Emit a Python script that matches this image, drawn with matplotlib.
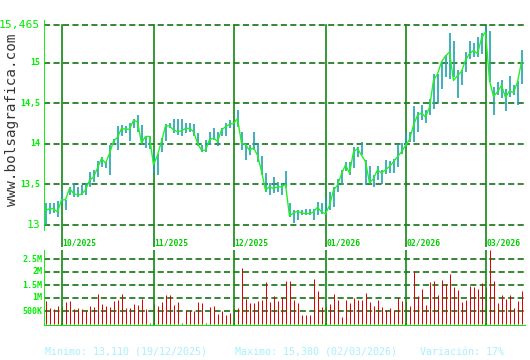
import matplotlib
matplotlib.use("Agg")
import matplotlib.pyplot as plt
import numpy as np

# daily closes / highs / lows (one per trading day, Sep 2025 - Mar 2026)
closes = [13.18, 13.20, 13.20, 13.16, 13.31, 13.31, 13.45, 13.39, 13.37, 13.38,
          13.43, 13.55, 13.59, 13.70, 13.82, 13.76, 13.88, 14.03, 14.08, 14.19,
          14.18, 14.18, 14.29, 14.27, 14.01, 14.09, 14.09, 13.74, 13.86, 14.03,
          14.22, 14.22, 14.17, 14.15, 14.16, 14.19, 14.19, 14.15, 14.01, 13.92,
          13.92, 14.05, 14.07, 14.03, 14.17, 14.21, 14.24, 14.25, 14.31, 14.01,
          13.99, 13.92, 13.95, 13.86, 13.66, 13.43, 13.47, 13.45, 13.47, 13.47,
          13.50, 13.11, 13.15, 13.17, 13.15, 13.14, 13.14, 13.16, 13.22, 13.16,
          13.14, 13.24, 13.43, 13.49, 13.63, 13.74, 13.64, 13.90, 13.94, 13.86,
          13.78, 13.52, 13.57, 13.68, 13.64, 13.68, 13.72, 13.78, 13.84, 13.90,
          13.98, 14.05, 14.23, 14.35, 14.38, 14.33, 14.45, 14.78, 14.86, 15.01,
          15.08, 15.13, 14.78, 14.84, 14.89, 15.03, 15.11, 15.15, 15.11, 15.30,
          15.38, 14.78, 14.58, 14.64, 14.72, 14.57, 14.65, 14.63, 14.76, 15.01]

highs = [13.27, 13.27, 13.27, 13.29, 13.42, 13.31, 13.47, 13.52, 13.47, 13.49,
         13.52, 13.65, 13.68, 13.79, 13.84, 13.78, 13.99, 14.06, 14.22, 14.23,
         14.22, 14.25, 14.31, 14.36, 14.23, 14.10, 14.10, 13.90, 13.88, 14.07,
         14.24, 14.26, 14.31, 14.31, 14.31, 14.25, 14.25, 14.24, 14.13, 13.99,
         14.05, 14.15, 14.19, 14.14, 14.19, 14.25, 14.29, 14.27, 14.42, 14.15,
         14.01, 13.99, 14.15, 14.01, 13.85, 13.64, 13.52, 13.59, 13.53, 13.52,
         13.66, 13.27, 13.18, 13.18, 13.18, 13.20, 13.20, 13.20, 13.28, 13.27,
         13.33, 13.41, 13.47, 13.57, 13.68, 13.78, 13.77, 13.96, 13.96, 14.02,
         13.80, 13.73, 13.61, 13.73, 13.68, 13.80, 13.79, 13.81, 14.00, 14.01,
         14.13, 14.15, 14.46, 14.39, 14.48, 14.42, 14.55, 14.86, 14.86, 15.01,
         15.09, 15.36, 15.27, 14.91, 14.91, 15.13, 15.27, 15.24, 15.32, 15.36,
         15.45, 15.39, 14.70, 14.76, 14.78, 14.68, 14.83, 14.72, 14.77, 15.16]

lows = [13.00, 13.14, 13.15, 13.10, 13.27, 13.18, 13.37, 13.35, 13.35, 13.37,
        13.37, 13.47, 13.53, 13.59, 13.72, 13.70, 13.62, 13.99, 13.92, 14.09,
        14.13, 14.03, 14.19, 14.15, 13.99, 13.95, 13.94, 13.64, 13.62, 13.90,
        14.03, 14.19, 14.13, 14.11, 14.10, 14.13, 14.14, 14.09, 13.97, 13.90,
        13.90, 13.99, 14.05, 13.97, 14.09, 14.09, 14.19, 14.21, 14.21, 13.92,
        13.80, 13.86, 13.92, 13.78, 13.62, 13.41, 13.37, 13.39, 13.41, 13.37,
        13.45, 13.10, 13.02, 13.06, 13.12, 13.12, 13.12, 13.06, 13.12, 13.14,
        13.12, 13.18, 13.22, 13.41, 13.49, 13.66, 13.61, 13.70, 13.84, 13.86,
        13.49, 13.51, 13.47, 13.55, 13.51, 13.63, 13.64, 13.64, 13.72, 13.88,
        13.96, 14.02, 14.02, 14.15, 14.29, 14.25, 14.36, 14.43, 14.50, 14.67,
        14.82, 14.80, 14.82, 14.57, 14.72, 14.89, 15.05, 15.07, 15.07, 15.11,
        15.27, 14.76, 14.35, 14.60, 14.56, 14.41, 14.58, 14.60, 14.48, 14.74]

# volume in millions of shares
volumes = [0.88, 0.62, 0.58, 0.69, 0.64, 0.85, 0.88, 0.58, 0.62, 0.58,
           0.49, 0.69, 0.65, 1.15, 0.77, 0.69, 0.65, 0.88, 0.92, 1.15,
           0.62, 0.62, 0.77, 0.73, 0.96, 0.58, 0.03, 0.77, 0.69, 0.85,
           1.12, 1.12, 0.73, 0.85, 0.03, 0.54, 0.54, 0.51, 0.85, 0.81,
           0.03, 0.65, 0.69, 0.38, 0.50, 0.35, 0.42, 0.58, 0.62, 2.15,
           0.96, 0.81, 0.81, 0.88, 0.92, 1.62, 0.85, 1.08, 0.88, 1.04,
           1.65, 1.65, 0.92, 0.81, 0.35, 0.35, 0.35, 1.73, 1.27, 0.65,
           0.65, 0.77, 1.15, 0.92, 0.27, 0.92, 0.81, 1.00, 0.92, 0.92,
           1.19, 0.85, 0.69, 0.92, 0.65, 0.54, 0.62, 0.54, 1.00, 0.88,
           0.90, 0.69, 2.04, 1.08, 1.35, 0.73, 1.62, 1.65, 1.12, 1.69,
           1.54, 1.92, 1.42, 1.31, 0.85, 0.92, 1.46, 1.42, 1.35, 1.58,
           1.40, 2.85, 1.65, 0.81, 1.12, 0.96, 1.12, 0.62, 0.88, 1.27]

month_idx = [4, 27, 47, 70, 90, 110]
month_labels = ["10/2025", "11/2025", "12/2025", "01/2026", "02/2026", "03/2026"]

price_ticks = [13, 13.5, 14, 14.5, 15, 15.465]
price_tick_labels = ["13", "13,5", "14", "14,5", "15", "15,465"]
vol_ticks = [0.5, 1, 1.5, 2, 2.5]
vol_tick_labels = ["500K", "1M", "1.5M", "2M", "2.5M"]

minimo = "Minimo: 13,110 (19/12/2025)"
maximo = "Maximo: 15,380 (02/03/2026)"
variacion = "Variación: 17%"

MONO = "DejaVu Sans Mono"
W, H = 530, 360
x = np.arange(len(closes))

fig = plt.figure(figsize=(W / 100, H / 100), dpi=100)
fig.patch.set_facecolor("white")


def px_axes(x0, y0, x1, y1):
    # pixel box (top-left origin) -> axes
    return fig.add_axes([x0 / W, (H - y1) / H, (x1 - x0) / W, (y1 - y0) / H])


# 4 px per trading day, bar centres on pixel centres
XL = (-0.375, 120.125)

# ---- price panel
ax = px_axes(44, 20, 526, 247)
ax.set_xlim(*XL)
ax.set_ylim(13 - 22 / 81.2, 13 + 205 / 81.2)
for s in ax.spines.values():
    s.set_visible(False)
ax.set_xticks([])
ax.set_yticks([])
ax.patch.set_alpha(0)

for v in price_ticks:
    ax.axhline(v, color="#006600", lw=1.1, ls=(0, (4, 2.2)), zorder=1)
for i in month_idx:
    ax.axvline(i, ymin=0, ymax=0.978, color="#108a10", lw=1.2, zorder=1)
ax.axvline(XL[0], ymin=0.075, ymax=1.0, color="#00ee00", lw=1.3, zorder=2)

ax.vlines(x, lows, highs, color="#1fa3ad", lw=1.2, zorder=3)
ax.plot(x, closes, color="#22f022", lw=1.0, zorder=4)

for v, lab in zip(price_ticks, price_tick_labels):
    big = lab in ("13", "15,465")
    ax.text(-0.008, v, lab, transform=ax.get_yaxis_transform(), ha="right",
            va="center", color="#00ee00", family=MONO,
            fontsize=8.2 if big else 6, fontweight="normal" if big else "bold")

for i, lab in zip(month_idx, month_labels):
    ax.text(i + 0.3, 0.018, lab, transform=ax.get_xaxis_transform(), ha="left",
            va="center", color="#00cc00", family=MONO, fontsize=5.8,
            fontweight="bold")

# ---- volume panel
av = px_axes(44, 250, 526, 326)
av.set_xlim(*XL)
av.set_ylim(-2 / 26, 74 / 26)
for s in av.spines.values():
    s.set_visible(False)
av.set_xticks([])
av.set_yticks([])
av.patch.set_alpha(0)

for v in vol_ticks:
    av.axhline(v, color="#006600", lw=1.1, ls=(0, (4, 2.2)), zorder=1)
av.vlines(x, 0, volumes, color="#e00000", lw=0.72, zorder=2)
for i in month_idx:
    av.axvline(i, color="#108a10", lw=1.2, zorder=3)
av.axvline(XL[0], color="#00ee00", lw=1.3, zorder=4)
av.axhline(-2 / 26, color="#00ee00", lw=1.5, zorder=4)

for v, lab in zip(vol_ticks, vol_tick_labels):
    av.text(-0.004, v, lab, transform=av.get_yaxis_transform(), ha="right",
            va="center", color="#00ee00", family=MONO, fontsize=6,
            fontweight="bold")

# ---- texts
fig.text(12 / W, 1 - 120 / H, "www.bolsagrafica.com", rotation=90, ha="center",
         va="center", family=MONO, fontsize=10.3, color="#333333")
for xp, t in [(45, minimo), (235, maximo), (420, variacion)]:
    fig.text(xp / W, 1 - 352 / H, t, ha="left", va="center", family=MONO,
             fontsize=7.2, color="#a8f0ff")

fig.savefig("out.png", dpi=100)
